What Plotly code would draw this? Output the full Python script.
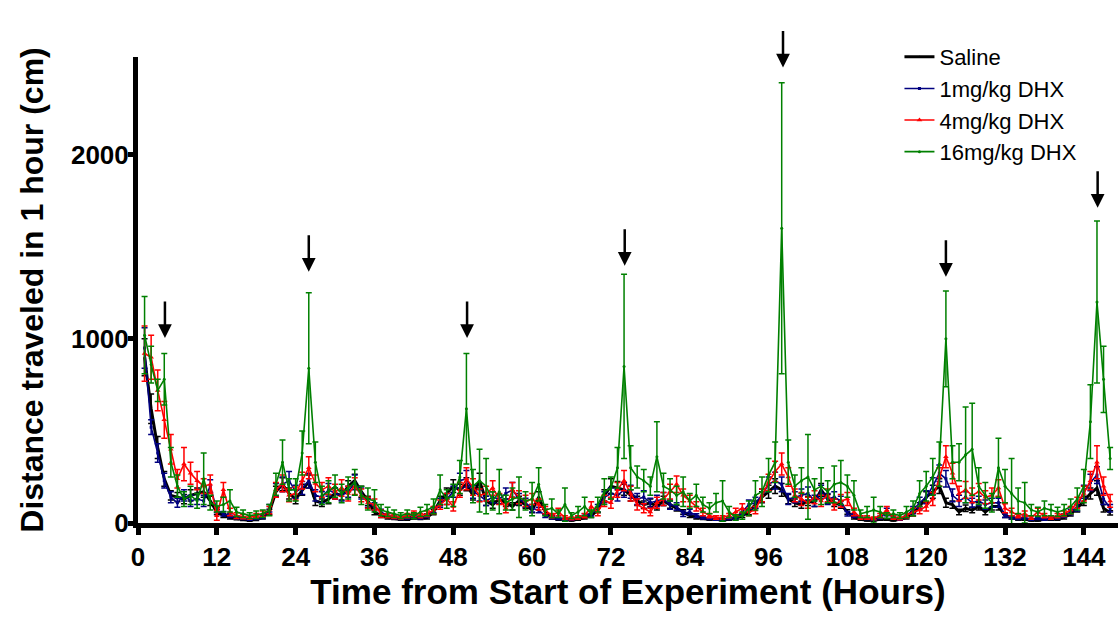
import plotly.graph_objects as go

hours = list(range(1, 149))

saline = [900, 620, 410, 240, 150, 140, 130, 150, 160, 170, 120, 60,
          40, 30, 25, 20, 15, 20, 30, 60, 170, 210, 160, 130,
          180, 225, 120, 110, 130, 160, 150, 200, 230, 170, 120, 60,
          40, 30, 25, 20, 20, 30, 25, 30, 60, 120, 160, 200,
          180, 210, 150, 230, 120, 100, 130, 110, 90, 120, 100, 70,
          140, 60, 30, 20, 20, 15, 20, 30, 40, 70, 150, 200,
          190, 180, 150, 120, 100, 110, 90, 120, 100, 80, 60, 40,
          30, 25, 20, 20, 15, 20, 25, 40, 60, 100, 140, 170,
          200, 180, 130, 110, 100, 120, 110, 180, 130, 110, 100, 60,
          30, 20, 15, 15, 20, 20, 15, 20, 30, 50, 90, 140,
          170, 200, 110, 100, 60, 80, 70, 90, 60, 90, 90, 40,
          30, 20, 20, 15, 15, 20, 20, 20, 30, 50, 80, 120,
          160, 190, 80, 55]
saline_sem = [100, 80, 60, 40, 25, 25, 25, 30, 30, 30, 25, 15,
              10, 8, 8, 6, 5, 6, 8, 15, 30, 35, 30, 25,
              30, 35, 25, 20, 25, 30, 25, 30, 35, 30, 25, 15,
              10, 8, 6, 5, 5, 8, 6, 8, 15, 25, 30, 35,
              30, 35, 25, 40, 25, 20, 25, 20, 20, 25, 20, 15,
              30, 15, 8, 5, 5, 4, 5, 8, 10, 15, 30, 40,
              35, 30, 30, 25, 20, 20, 20, 25, 20, 15, 12, 10,
              8, 6, 5, 5, 4, 5, 6, 10, 15, 20, 30, 35,
              40, 35, 25, 20, 20, 25, 20, 35, 25, 20, 20, 12,
              8, 5, 4, 4, 5, 5, 4, 5, 8, 12, 20, 30,
              35, 40, 25, 20, 15, 18, 15, 20, 15, 20, 20, 10,
              8, 5, 5, 4, 4, 5, 5, 5, 8, 12, 20, 25,
              30, 40, 20, 12]

dhx1 = [950, 520, 380, 230, 140, 110, 150, 120, 130, 120, 200, 70,
        50, 40, 30, 25, 20, 25, 35, 80, 180, 210, 230, 170,
        190, 230, 150, 140, 180, 160, 150, 170, 220, 160, 110, 90,
        60, 40, 30, 25, 30, 40, 30, 40, 70, 110, 130, 170,
        230, 240, 170, 150, 120, 140, 130, 160, 180, 130, 110, 80,
        70, 40, 30, 25, 20, 20, 30, 40, 50, 80, 140, 160,
        150, 180, 170, 130, 140, 110, 120, 130, 100, 90, 50, 60,
        40, 30, 25, 20, 20, 25, 30, 60, 100, 110, 150, 210,
        230, 210, 130, 140, 150, 160, 120, 170, 130, 140, 120, 50,
        40, 30, 25, 20, 30, 60, 30, 20, 40, 70, 110, 140,
        200, 270, 240, 150, 120, 140, 110, 120, 100, 110, 110, 40,
        30, 25, 30, 20, 25, 20, 25, 30, 40, 60, 90, 170,
        220, 260, 130, 80]
dhx1_sem = [110, 40, 50, 40, 30, 25, 30, 30, 30, 30, 35, 15,
            12, 10, 8, 6, 5, 6, 10, 20, 35, 40, 50, 35,
            35, 40, 30, 30, 35, 30, 30, 30, 40, 30, 25, 20,
            15, 10, 8, 6, 8, 10, 8, 10, 15, 25, 30, 30,
            40, 45, 35, 30, 25, 30, 25, 30, 40, 30, 25, 20,
            15, 10, 8, 6, 5, 5, 8, 10, 12, 20, 30, 30,
            30, 40, 35, 30, 35, 25, 30, 35, 25, 20, 15, 15,
            10, 8, 6, 5, 5, 6, 8, 15, 25, 30, 35, 40,
            45, 40, 30, 30, 35, 35, 30, 35, 30, 30, 25, 12,
            10, 8, 6, 5, 8, 20, 8, 5, 10, 20, 30, 35,
            45, 45, 45, 35, 30, 30, 25, 25, 25, 25, 25, 10,
            8, 6, 8, 5, 6, 5, 6, 8, 10, 15, 25, 35,
            45, 45, 30, 20]

dhx4 = [920, 900, 720, 560, 400, 240, 320, 270, 230, 200, 210, 40,
        180, 60, 40, 35, 30, 40, 50, 70, 180, 215, 150, 160,
        230, 300, 215, 180, 200, 170, 190, 160, 200, 150, 110, 100,
        50, 40, 35, 30, 40, 50, 40, 50, 70, 100, 130, 90,
        180, 240, 195, 150, 160, 190, 130, 80, 180, 140, 120, 130,
        100, 70, 40, 60, 30, 25, 30, 40, 90, 60, 120, 110,
        180, 230, 160, 100, 80, 60, 110, 130, 170, 210, 150, 120,
        90, 60, 40, 30, 30, 40, 60, 80, 60, 70, 150, 220,
        280, 320, 250, 150, 130, 110, 140, 120, 150, 100, 120, 130,
        60, 30, 30, 25, 40, 70, 30, 25, 40, 60, 70, 90,
        130, 250, 360, 270, 160, 180, 150, 170, 140, 150, 190, 80,
        60, 40, 50, 30, 60, 40, 30, 40, 50, 70, 110, 160,
        230, 330, 200, 120]
dhx4_sem = [150, 120, 110, 100, 80, 50, 90, 60, 50, 40, 50, 25,
            40, 20, 15, 12, 10, 12, 15, 20, 40, 45, 35, 35,
            45, 60, 45, 40, 45, 40, 45, 40, 45, 35, 30, 30,
            20, 12, 10, 8, 12, 15, 12, 15, 20, 25, 30, 25,
            40, 60, 45, 35, 40, 40, 30, 25, 40, 35, 30, 30,
            30, 20, 12, 20, 10, 8, 10, 12, 25, 20, 30, 30,
            40, 55, 40, 30, 25, 20, 30, 35, 40, 45, 35, 30,
            25, 20, 12, 10, 10, 12, 20, 25, 20, 20, 35, 45,
            55, 60, 50, 35, 35, 30, 35, 30, 35, 30, 35, 35,
            20, 10, 10, 8, 12, 20, 10, 8, 12, 20, 20, 25,
            35, 50, 60, 55, 40, 45, 40, 45, 35, 40, 45, 25,
            20, 12, 15, 10, 20, 12, 10, 12, 15, 20, 30, 40,
            50, 90, 50, 35]

dhx16 = [1020, 860, 720, 780, 330, 200, 130, 150, 120, 240, 110, 90,
         100, 120, 60, 50, 40, 45, 50, 70, 210, 330, 180, 180,
         380, 840, 330, 150, 170, 200, 160, 190, 220, 150, 130, 120,
         70, 60, 50, 40, 50, 40, 60, 70, 90, 180, 130, 150,
         250, 620, 200, 230, 200, 120, 170, 110, 130, 140, 120, 130,
         210, 70, 80, 50, 100, 40, 60, 90, 50, 100, 170, 190,
         300, 850, 300, 250, 230, 200, 360, 200, 180, 150, 170, 120,
         150, 100, 80, 110, 120, 60, 30, 40, 80, 150, 170, 260,
         330, 1600, 330, 200, 230, 250, 180, 200, 170, 210, 220, 200,
         150, 50, 60, 70, 60, 40, 50, 40, 60, 80, 160, 200,
         250, 320, 1000, 330, 330, 370, 400, 200, 150, 110, 300, 200,
         160, 120, 110, 70, 60, 80, 70, 60, 70, 90, 130, 200,
         550, 1200, 780, 350]
dhx16_sem = [210, 100, 60, 140, 80, 60, 40, 50, 40, 140, 40, 30,
             40, 60, 25, 20, 15, 20, 20, 30, 60, 120, 60, 60,
             120, 410, 110, 50, 60, 60, 50, 60, 70, 50, 60, 60,
             30, 25, 20, 15, 20, 15, 25, 30, 40, 80, 50, 60,
             90, 300, 90, 170, 150, 50, 120, 40, 60, 110, 50, 90,
             90, 30, 50, 20, 90, 15, 30, 50, 20, 40, 70, 60,
             110, 500, 120, 60, 60, 50, 190, 70, 60, 50, 80, 40,
             60, 40, 30, 50, 110, 30, 15, 20, 40, 80, 80, 90,
             110, 790, 120, 60, 70, 230, 60, 100, 60, 100, 120, 60,
             80, 20, 30, 70, 30, 15, 20, 15, 30, 40, 70, 80,
             100, 120, 260, 90, 100, 260, 250, 100, 70, 50, 160, 90,
             190, 70, 110, 30, 25, 40, 30, 25, 30, 40, 60, 90,
             200, 440, 180, 60]

series_names = ["Saline", "1mg/kg DHX", "4mg/kg DHX", "16mg/kg DHX"]
x_ticks = [0, 12, 24, 36, 48, 60, 72, 84, 96, 108, 120, 132, 144]
y_ticks = [0, 1000, 2000]

dose_hours = [4.1, 26, 50.1, 74.1, 98.2, 123, 146.1]
arrow_tips = [1005, 1364, 1005, 1397, 2473, 1337, 1712]

styles = [
    dict(color="#000000", width=3, symbol="circle", size=2),
    dict(color="#000080", width=1.6, symbol="square", size=3),
    dict(color="#FF0000", width=1.6, symbol="triangle-up", size=5),
    dict(color="#008000", width=1.6, symbol="circle", size=3),
]
data = [(saline, saline_sem), (dhx1, dhx1_sem), (dhx4, dhx4_sem), (dhx16, dhx16_sem)]

fig = go.Figure()
for name, (vals, sem), st in zip(series_names, data, styles):
    fig.add_trace(go.Scatter(
        x=hours, y=vals, name=name, mode="lines+markers",
        line=dict(color=st["color"], width=st["width"]),
        marker=dict(color=st["color"], symbol=st["symbol"], size=st["size"]),
        error_y=dict(type="data", array=sem, visible=True, color=st["color"],
                     thickness=1.5, width=3),
        cliponaxis=False,
    ))

for h, tip in zip(dose_hours, arrow_tips):
    fig.add_annotation(x=h, y=tip, xref="x", yref="y", ax=0, ay=-38,
                       showarrow=True, arrowhead=2, arrowsize=1.1,
                       arrowwidth=2.5, arrowcolor="#000000", text="")

FAM = "Liberation Sans, Arial, sans-serif"
tick_font = dict(family=FAM, size=26, color="#000000", weight="bold")

fig.update_layout(
    width=1118, height=628,
    margin=dict(l=138, r=0, t=57, b=105),
    paper_bgcolor="white", plot_bgcolor="white",
    showlegend=True,
    legend=dict(x=0.777, y=1.045, xanchor="left", yanchor="top",
                font=dict(family=FAM, size=22, color="#000000"),
                bgcolor="rgba(0,0,0,0)", tracegroupgap=0),
    xaxis=dict(range=[0, 149.2], tickmode="array", tickvals=x_ticks,
               ticktext=[str(t) for t in x_ticks],
               showgrid=False, zeroline=False, showline=True, linewidth=5,
               linecolor="#000000", ticks="outside", ticklen=7, tickwidth=5,
               tickcolor="#000000", tickfont=tick_font,
               title=dict(text="Time from Start of Experiment (Hours)",
                          font=dict(family=FAM, size=35, color="#000000", weight="bold"),
                          standoff=9)),
    yaxis=dict(range=[0, 2530], tickmode="array", tickvals=y_ticks,
               ticktext=[str(t) for t in y_ticks],
               showgrid=False, zeroline=False, showline=True, linewidth=5,
               linecolor="#000000", ticks="outside", ticklen=5, tickwidth=5,
               tickcolor="#000000", tickfont=tick_font, ticklabelstandoff=-6,
               title=dict(text="Distance traveled in 1 hour (cm)",
                          font=dict(family=FAM, size=32, color="#000000", weight="bold"),
                          standoff=19)),
)

fig.write_html("out.html")
